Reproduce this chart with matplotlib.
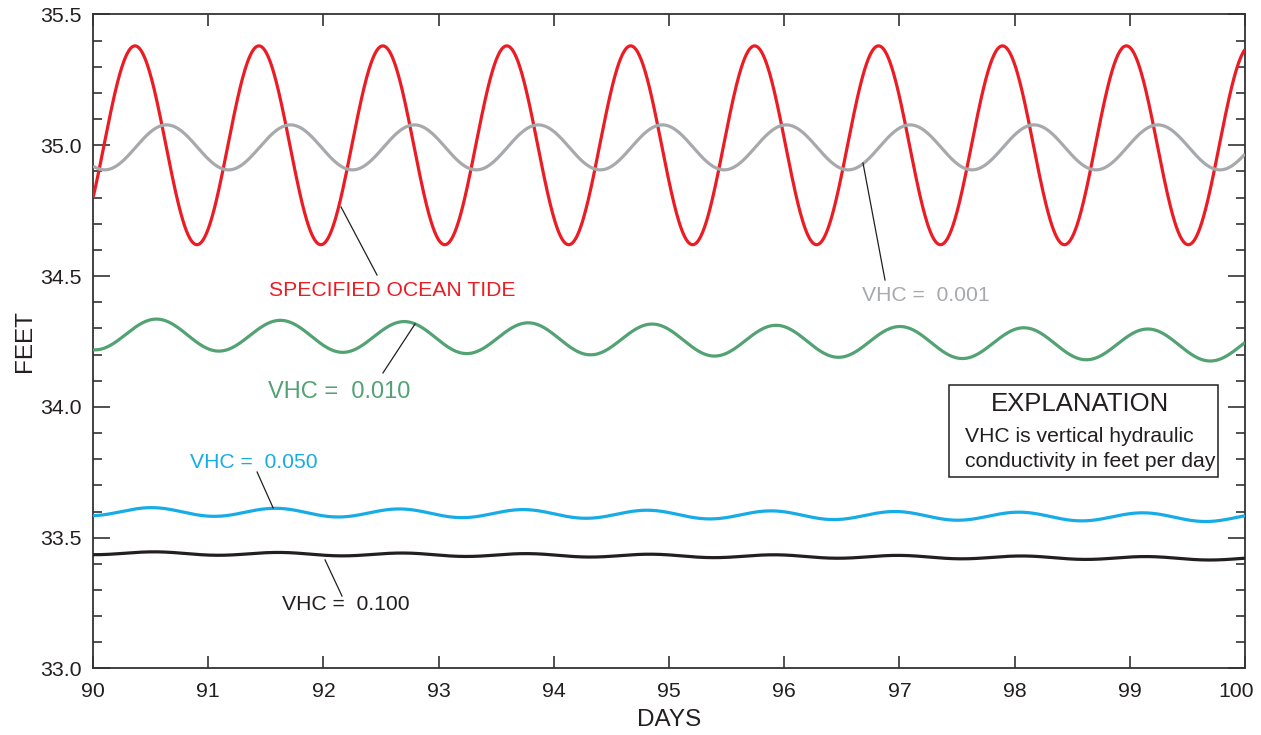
import numpy as np
import matplotlib
matplotlib.use("Agg")
import matplotlib.pyplot as plt
from matplotlib.ticker import MultipleLocator
from matplotlib.transforms import ScaledTranslation

plt.rcParams["font.family"] = ["Liberation Sans", "DejaVu Sans"]

# Simulated water levels (feet) over days 90-100 of the run.
# Each record is a diurnal oscillation: level at day 90, level at day 100,
# half-range of the oscillation, and the day of the first crest.
series_labels = ["SPECIFIED OCEAN TIDE", "VHC =  0.001", "VHC =  0.010",
                 "VHC =  0.050", "VHC =  0.100"]
level_day90 = [35.000, 34.992, 34.278, 33.600, 33.441]
level_day100 = [35.000, 34.992, 34.234, 33.577, 33.420]
half_range = [0.380, 0.086, 0.060, 0.016, 0.006]
first_crest_day = [90.364, 90.638, 90.552, 90.510, 90.540]
tide_period_days = 1.0758
series_colors = ["#EC1C24", "#A7A9AC", "#52A273", "#18ACE6", "#231F20"]

x_ticks = [90, 91, 92, 93, 94, 95, 96, 97, 98, 99, 100]
y_ticks = [33.0, 33.5, 34.0, 34.5, 35.0, 35.5]

days = np.linspace(90, 100, 2001)

fig = plt.figure(figsize=(12.61, 7.35), dpi=100)
ax = fig.add_axes([0.0738, 0.0905, 0.9135, 0.8898])

for lab, y0, y1, amp, crest, col in zip(series_labels, level_day90, level_day100,
                                         half_range, first_crest_day, series_colors):
    base = y0 + (y1 - y0) * (days - 90) / 10.0
    level = base + amp * np.cos(2 * np.pi * (days - crest) / tide_period_days)
    ax.plot(days, level, color=col, lw=2.3, solid_capstyle="butt", zorder=3)

ax.set_xlim(90, 100)
ax.set_ylim(33.0, 35.5)
ax.set_xticks(x_ticks)
ax.set_yticks(y_ticks)
ax.set_xticklabels([str(v) for v in x_ticks])
ax.set_yticklabels([f"{v:.1f}" for v in y_ticks])
ax.yaxis.set_minor_locator(MultipleLocator(0.1))

for side in ax.spines.values():
    side.set_linewidth(1.3)
    side.set_color("#333333")

ax.tick_params(axis="y", which="major", direction="in", length=12, width=1.2,
               left=True, right=True, labelsize=15.3, pad=8, colors="#333333",
               labelcolor="#231F20")
ax.tick_params(axis="y", which="minor", direction="in", length=6.5, width=1.2,
               left=True, right=True, colors="#333333")
ax.tick_params(axis="x", which="major", direction="in", length=8.5, width=1.2,
               bottom=True, top=True, labelsize=15.3, pad=9.5, colors="#333333",
               labelcolor="#231F20")

# keep the last day label inside the figure
last_lbl = ax.get_xticklabels()[-1]
last_lbl.set_transform(last_lbl.get_transform()
                       + ScaledTranslation(-0.09, 0, fig.dpi_scale_trans))

ax.set_xlabel("DAYS", fontsize=17.5, color="#231F20", labelpad=6)
ax.set_ylabel("FEET", fontsize=17.5, color="#231F20", labelpad=3)

# Curve labels with leader lines
label_specs = [
    # text, x, y, size, color, leader start, leader end
    ("SPECIFIED OCEAN TIDE", 92.595, 34.443, 15.2, series_colors[0],
     (92.153, 34.764), (92.465, 34.504)),
    ("VHC =  0.001", 97.231, 34.424, 15.2, series_colors[1],
     (96.684, 34.932), (96.875, 34.485)),
    ("VHC =  0.010", 92.135, 34.057, 17.0, series_colors[2],
     (92.795, 34.317), (92.517, 34.130)),
    ("VHC =  0.050", 91.398, 33.789, 15.2, series_colors[3],
     (91.563, 33.614), (91.424, 33.751)),
    ("VHC =  0.100", 92.196, 33.243, 15.2, "#231F20",
     (92.014, 33.415), (92.161, 33.277)),
]
for txt, tx, ty, fs, col, p0, p1 in label_specs:
    ax.text(tx, ty, txt, fontsize=fs, color=col, ha="center", va="center", zorder=4)
    ax.plot([p0[0], p1[0]], [p0[1], p1[1]], color="#231F20", lw=0.9, zorder=4)

# Explanation box
box = plt.Rectangle((0.7431, 0.2928), 0.2335, 0.1407, transform=ax.transAxes,
                    fill=True, facecolor="white", edgecolor="#231F20", lw=1.1, zorder=5)
ax.add_patch(box)
ax.text(0.8564, 0.4045, "EXPLANATION", transform=ax.transAxes, fontsize=18.5,
        ha="center", va="center", color="#231F20", zorder=6)
ax.text(0.8564, 0.3545, "VHC is vertical hydraulic", transform=ax.transAxes,
        fontsize=15.2, ha="center", va="center", color="#231F20", zorder=6)
ax.text(0.8660, 0.3165, "conductivity in feet per day", transform=ax.transAxes,
        fontsize=15.2, ha="center", va="center", color="#231F20", zorder=6)

fig.savefig("out.png", dpi=100)
